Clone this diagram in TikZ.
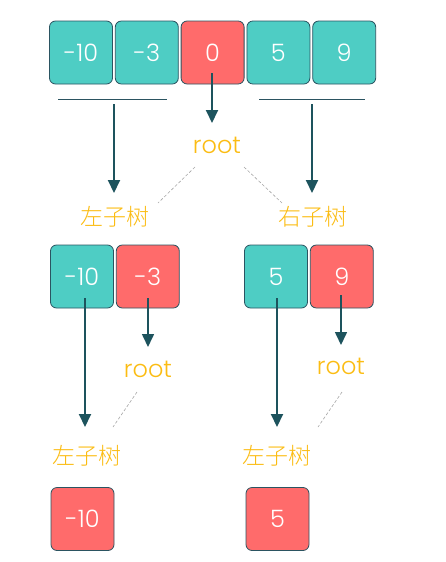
\documentclass[tikz,border=0pt]{standalone}
\usepackage{fontspec}
\setmainfont{Poppins}[UprightFont=* Light]
\newfontfamily\cjk{Noto Sans CJK SC}[UprightFont=* Light]
\usetikzlibrary{arrows.meta,positioning}
\definecolor{cellteal}{HTML}{4ECDC4}
\definecolor{cellred}{HTML}{FF6B6B}
\definecolor{celledge}{HTML}{2B5461}
\definecolor{arrowdark}{HTML}{1D535D}
\definecolor{labelgold}{HTML}{FBBC13}

\begin{document}
\begin{tikzpicture}[x=1pt,y=-1pt,
  cell/.style={draw=celledge,line width=0.8pt,rounded corners=6pt,
    minimum width=63pt,minimum height=63pt,inner sep=0pt,
    text=white,font=\fontsize{24}{24}\selectfont},
  tealcell/.style={cell,fill=cellteal},
  redcell/.style={cell,fill=cellred},
  tag/.style={text=labelgold,inner sep=0pt,font=\fontsize{24}{24}\selectfont},
  cjktag/.style={tag,font=\cjk\fontsize{23}{23}\selectfont},
  arr/.style={draw=arrowdark,line width=2pt,-{Triangle[width=12pt,length=13pt]}},
  thinarr/.style={arr,line width=1.6pt},
  hint/.style={draw=gray!70,line width=0.6pt,dash pattern=on 3pt off 2pt},
  split/.style={draw=celledge,line width=0.8pt}]
  \useasboundingbox (0,0) rectangle (445,562);
  % whole array
  \node[tealcell] (t1) at (81,52.5) {-10};
  \node[tealcell,right=2pt of t1] (t2) {-3};
  \node[redcell,right=2pt of t2] (t3) {0};
  \node[tealcell,right=2pt of t3] (t4) {5};
  \node[tealcell,right=2pt of t4] (t5) {9};
  \draw[split] (58,99) -- (167,99);
  \draw[split] (259,99) -- (365,99);
  \node[tag] (root0) at (217,145) {root};
  \node[cjktag] (left0) at (115,217) {左子树};
  \node[cjktag] (right0) at (313,217) {右子树};
  \coordinate (tip0) at (212,123);
  \coordinate (tipL) at (114,193);
  \coordinate (tipR) at (312,193);
  \draw[arr] (212,73) -- (tip0);
  \draw[arr] (114,104) -- (tipL);
  \draw[arr] (312,104) -- (tipR);
  \draw[hint] (195,167) -- (158,203);
  \draw[hint] (244,167) -- (282,203);
  % second level
  \node[tealcell] (l1) at (82,276.5) {-10};
  \node[redcell,right=2pt of l1] (l2) {-3};
  \node[tealcell] (r1) at (276,276.5) {5};
  \node[redcell,right=2pt of r1] (r2) {9};
  \node[tag] (root1) at (148,369) {root};
  \node[tag] (root2) at (341,366) {root};
  \node[cjktag] (left1) at (87,456) {左子树};
  \node[cjktag] (left2) at (277,456) {左子树};
  \draw[arr] (85,298) -- (85,427);
  \draw[thinarr] (148,298) -- (148,347);
  \draw[arr] (277,298) -- (277,427);
  \draw[thinarr] (341,295) -- (341,345);
  \draw[hint] (137,392) -- (113,427);
  \draw[hint] (342,392) -- (318,427);
  % leaves
  \node[redcell] (b1) at (82.5,519) {-10};
  \node[redcell] (b2) at (277.5,519) {5};
\end{tikzpicture}
\end{document}
